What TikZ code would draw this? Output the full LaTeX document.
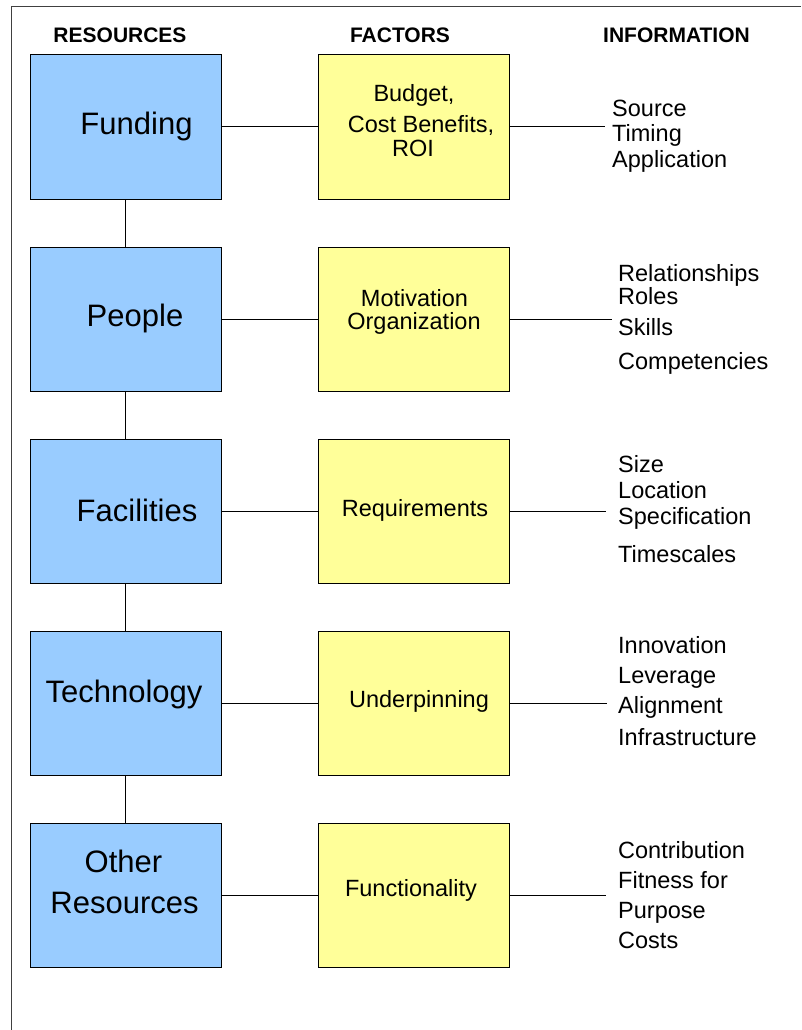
\documentclass[tikz,border=0pt]{standalone}
\usepackage{fontspec}
\setmainfont{Liberation Sans}
\definecolor{resblue}{HTML}{99CCFF}
\definecolor{facyellow}{HTML}{FFFF99}
\begin{document}
\begin{tikzpicture}[x=1pt, y=-1pt]
\useasboundingbox (0,0) rectangle (801,1030);
\draw[line width=1pt, black!75] (11,1030) -- (11,7) -- (801,7);

\tikzset{every node/.style={draw, line width=1pt, minimum width=191pt, minimum height=144pt, inner sep=0pt}}
\tikzset{resbox/.style={fill=resblue}, facbox/.style={fill=facyellow}}
\node[resbox] (fund) at (125.5,127) {};
\node[resbox] (peop) at (125.5,319) {};
\node[resbox] (faci) at (125.5,511) {};
\node[resbox] (tech) at (125.5,703) {};
\node[resbox] (othr) at (125.5,895) {};
\node[facbox] (budg) at (414,127) {};
\node[facbox] (moti) at (414,319) {};
\node[facbox] (requ) at (414,511) {};
\node[facbox] (unde) at (414,703) {};
\node[facbox] (func) at (414,895) {};
\coordinate (i1) at (605,127);
\coordinate (i2) at (612,319);
\coordinate (i3) at (606,511);
\coordinate (i4) at (607,703);
\coordinate (i5) at (606,895);

\tikzset{every node/.style={inner sep=0pt, anchor=base}}
\tikzset{head/.style={font=\fontsize{21}{21}\selectfont\bfseries},
  big/.style={font=\fontsize{31}{31}\selectfont},
  small/.style={font=\fontsize{23.5}{23.5}\selectfont},
  info/.style={small, anchor=base west}}
\node[head] (hres) at (120,43) {RESOURCES};
\node[head] (hfac) at (400,43) {FACTORS};
\node[head] (hinf) at (676.5,43) {INFORMATION};

\node[big] (tfund) at (136.5,135) {Funding};
\node[big] (tpeop) at (135,326) {People};
\node[big] (tfaci) at (137,521) {Facilities};
\node[big] (ttech) at (124,702) {Technology};
\node[big] (tothr1) at (123.5,872) {Other};
\node[big] (tothr2) at (124.5,913) {Resources};

\node[small] (tbudg1) at (414,102) {Budget,};
\node[small] (tbudg2) at (421,132) {Cost Benefits,};
\node[small] (tbudg3) at (413,157) {ROI};
\node[small] (tmoti1) at (414.5,306) {Motivation};
\node[small] (tmoti2) at (414,329.5) {Organization};
\node[small] (trequ) at (415,516) {Requirements};
\node[small] (tunde) at (419,707) {Underpinning};
\node[small] (tfunc) at (411,896) {Functionality};

\node[info] (src) at (612,117) {Source};
\node[info] (tim) at (612,142) {Timing};
\node[info] (app) at (612,167) {Application};
\node[info] (rel) at (618,281) {Relationships};
\node[info] (rol) at (618,304) {Roles};
\node[info] (ski) at (618,335) {Skills};
\node[info] (com) at (618,369) {Competencies};
\node[info] (siz) at (618,472) {Size};
\node[info] (loc) at (618,498) {Location};
\node[info] (spe) at (618,524) {Specification};
\node[info] (tsc) at (618,562) {Timescales};
\node[info] (inn) at (618,653) {Innovation};
\node[info] (lev) at (618,683) {Leverage};
\node[info] (ali) at (618,713) {Alignment};
\node[info] (inf) at (618,745) {Infrastructure};
\node[info] (con) at (618,858) {Contribution};
\node[info] (fit) at (618,888) {Fitness for};
\node[info] (pur) at (618,918) {Purpose};
\node[info] (cos) at (618,948) {Costs};

\tikzset{every node/.style={}}
\tikzset{link/.style={line width=1pt}}
\path (fund) edge [link] (peop);
\path (peop) edge [link] (faci);
\path (faci) edge [link] (tech);
\path (tech) edge [link] (othr);
\path (fund) edge [link] (budg);
\path (peop) edge [link] (moti);
\path (faci) edge [link] (requ);
\path (tech) edge [link] (unde);
\path (othr) edge [link] (func);
\path (budg) edge [link] (i1);
\path (moti) edge [link] (i2);
\path (requ) edge [link] (i3);
\path (unde) edge [link] (i4);
\path (func) edge [link] (i5);
\end{tikzpicture}
\end{document}
